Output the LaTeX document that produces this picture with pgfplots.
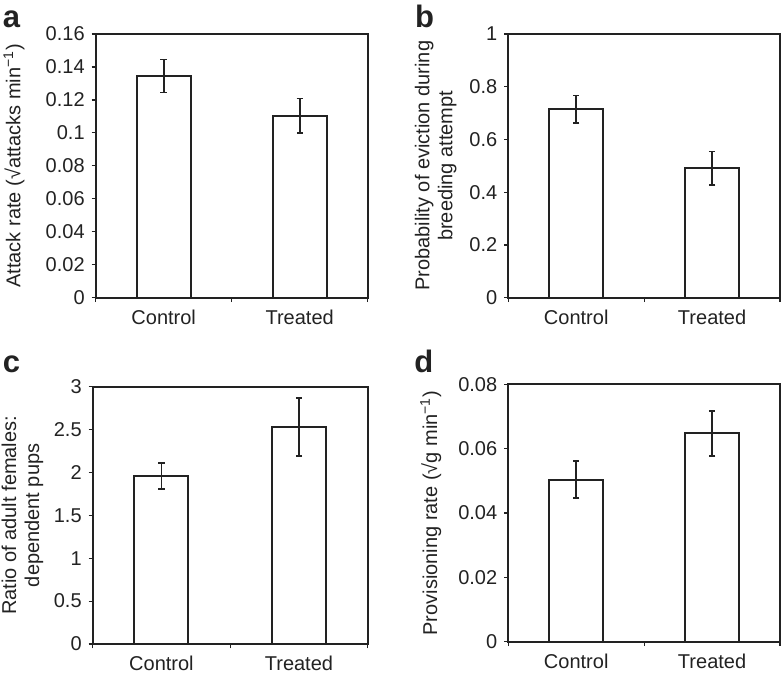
\documentclass[border=0pt]{standalone}
\usepackage{pgfplots}
\pgfplotsset{compat=1.18}
\usepackage{fontspec}
\setmainfont{Liberation Sans}
\definecolor{ln}{HTML}{222222}
\pgfplotsset{
  panel/.style={
    scale only axis, anchor=south west,
    axis line style={ln, line width=0.9pt},
    xmin=0.5, xmax=2.5, ymin=0,
    xtick={1,2}, xticklabels={Control,Treated},
    major x tick style={draw=none},
    minor xtick={0.5,1.5,2.5},
    minor tick length=2.2pt, major tick length=2pt,
    tick align=outside, ytick pos=left, xtick pos=bottom,
    tick style={ln, line width=0.6pt},
    scaled y ticks=false,
    ybar, bar width=27pt,
    tick label style={font=\fontsize{10}{12}\selectfont, text=ln},
    xticklabel style={yshift=-0.6pt},
    label style={font=\fontsize{10}{11.5}\selectfont, text=ln},
    /pgf/number format/assume math mode=true,
  },
  bars/.style={fill=white, draw=ln, line width=1pt,
    error bars/.cd, y dir=both, y explicit,
    error bar style={line width=0.8pt, ln},
    error mark options={rotate=90, mark size=1.6pt, line width=0.8pt, ln}},
}
\begin{document}
\begin{tikzpicture}[x=1pt,y=1pt]
\useasboundingbox (0,0) rectangle (390.5,336.5);
% a
\begin{axis}[panel, at={(47.85pt,187.65pt)}, width=136pt, height=131.85pt,
  ymax=0.16, ytick={0,0.02,0.04,0.06,0.08,0.1,0.12,0.14,0.16},
  yticklabels={0,0.02,0.04,0.06,0.08,0.1,0.12,0.14,0.16},
  ylabel={Attack rate (√attacks min\textsuperscript{−1})},
  ylabel style={at={(axis description cs:-0.30,0.5)}, anchor=center}]
\addplot[bars] coordinates {(1,0.1345) +- (0,0.0100) (2,0.1104) +- (0,0.0104)};
\end{axis}
% b
\begin{axis}[panel, at={(254.15pt,187.65pt)}, width=135.85pt, height=131.85pt,
  ymax=1, ytick={0,0.2,0.4,0.6,0.8,1},
  yticklabels={0,0.2,0.4,0.6,0.8,1},
  ylabel={Probability of eviction during\\breeding attempt},
  ylabel style={align=center, at={(axis description cs:-0.267,0.5)}, anchor=center}]
\addplot[bars] coordinates {(1,0.715) +- (0,0.052) (2,0.491) +- (0,0.064)};
\end{axis}
% c
\begin{axis}[panel, at={(46.35pt,14.5pt)}, width=137.5pt, height=128.65pt,
  ymax=3, ytick={0,0.5,1,1.5,2,2.5,3},
  yticklabels={0,0.5,1,1.5,2,2.5,3},
  ylabel={Ratio of adult females:\\dependent pups},
  ylabel style={align=center, at={(axis description cs:-0.255,0.5)}, anchor=center}]
\addplot[bars] coordinates {(1,1.96) +- (0,0.15) (2,2.53) +- (0,0.335)};
\end{axis}
% d
\begin{axis}[panel, at={(254.15pt,15.65pt)}, width=135.85pt, height=128.65pt,
  ymax=0.08, ytick={0,0.02,0.04,0.06,0.08},
  yticklabels={0,0.02,0.04,0.06,0.08},
  ylabel={Provisioning rate (√g min\textsuperscript{−1})},
  ylabel style={at={(axis description cs:-0.285,0.5)}, anchor=center}]
\addplot[bars] coordinates {(1,0.0504) +- (0,0.0057) (2,0.0648) +- (0,0.0070)};
\end{axis}
\begin{scope}[every node/.style={anchor=base west, inner sep=0pt, font=\bfseries\fontsize{15.5}{15.5}\selectfont, text=ln}]
\node at (1.2,322.85) {a};
\node at (207.3,322.85) {b};
\node at (1.3,150.35) {c};
\node at (207,150.35) {d};
\end{scope}
\end{tikzpicture}
\end{document}
